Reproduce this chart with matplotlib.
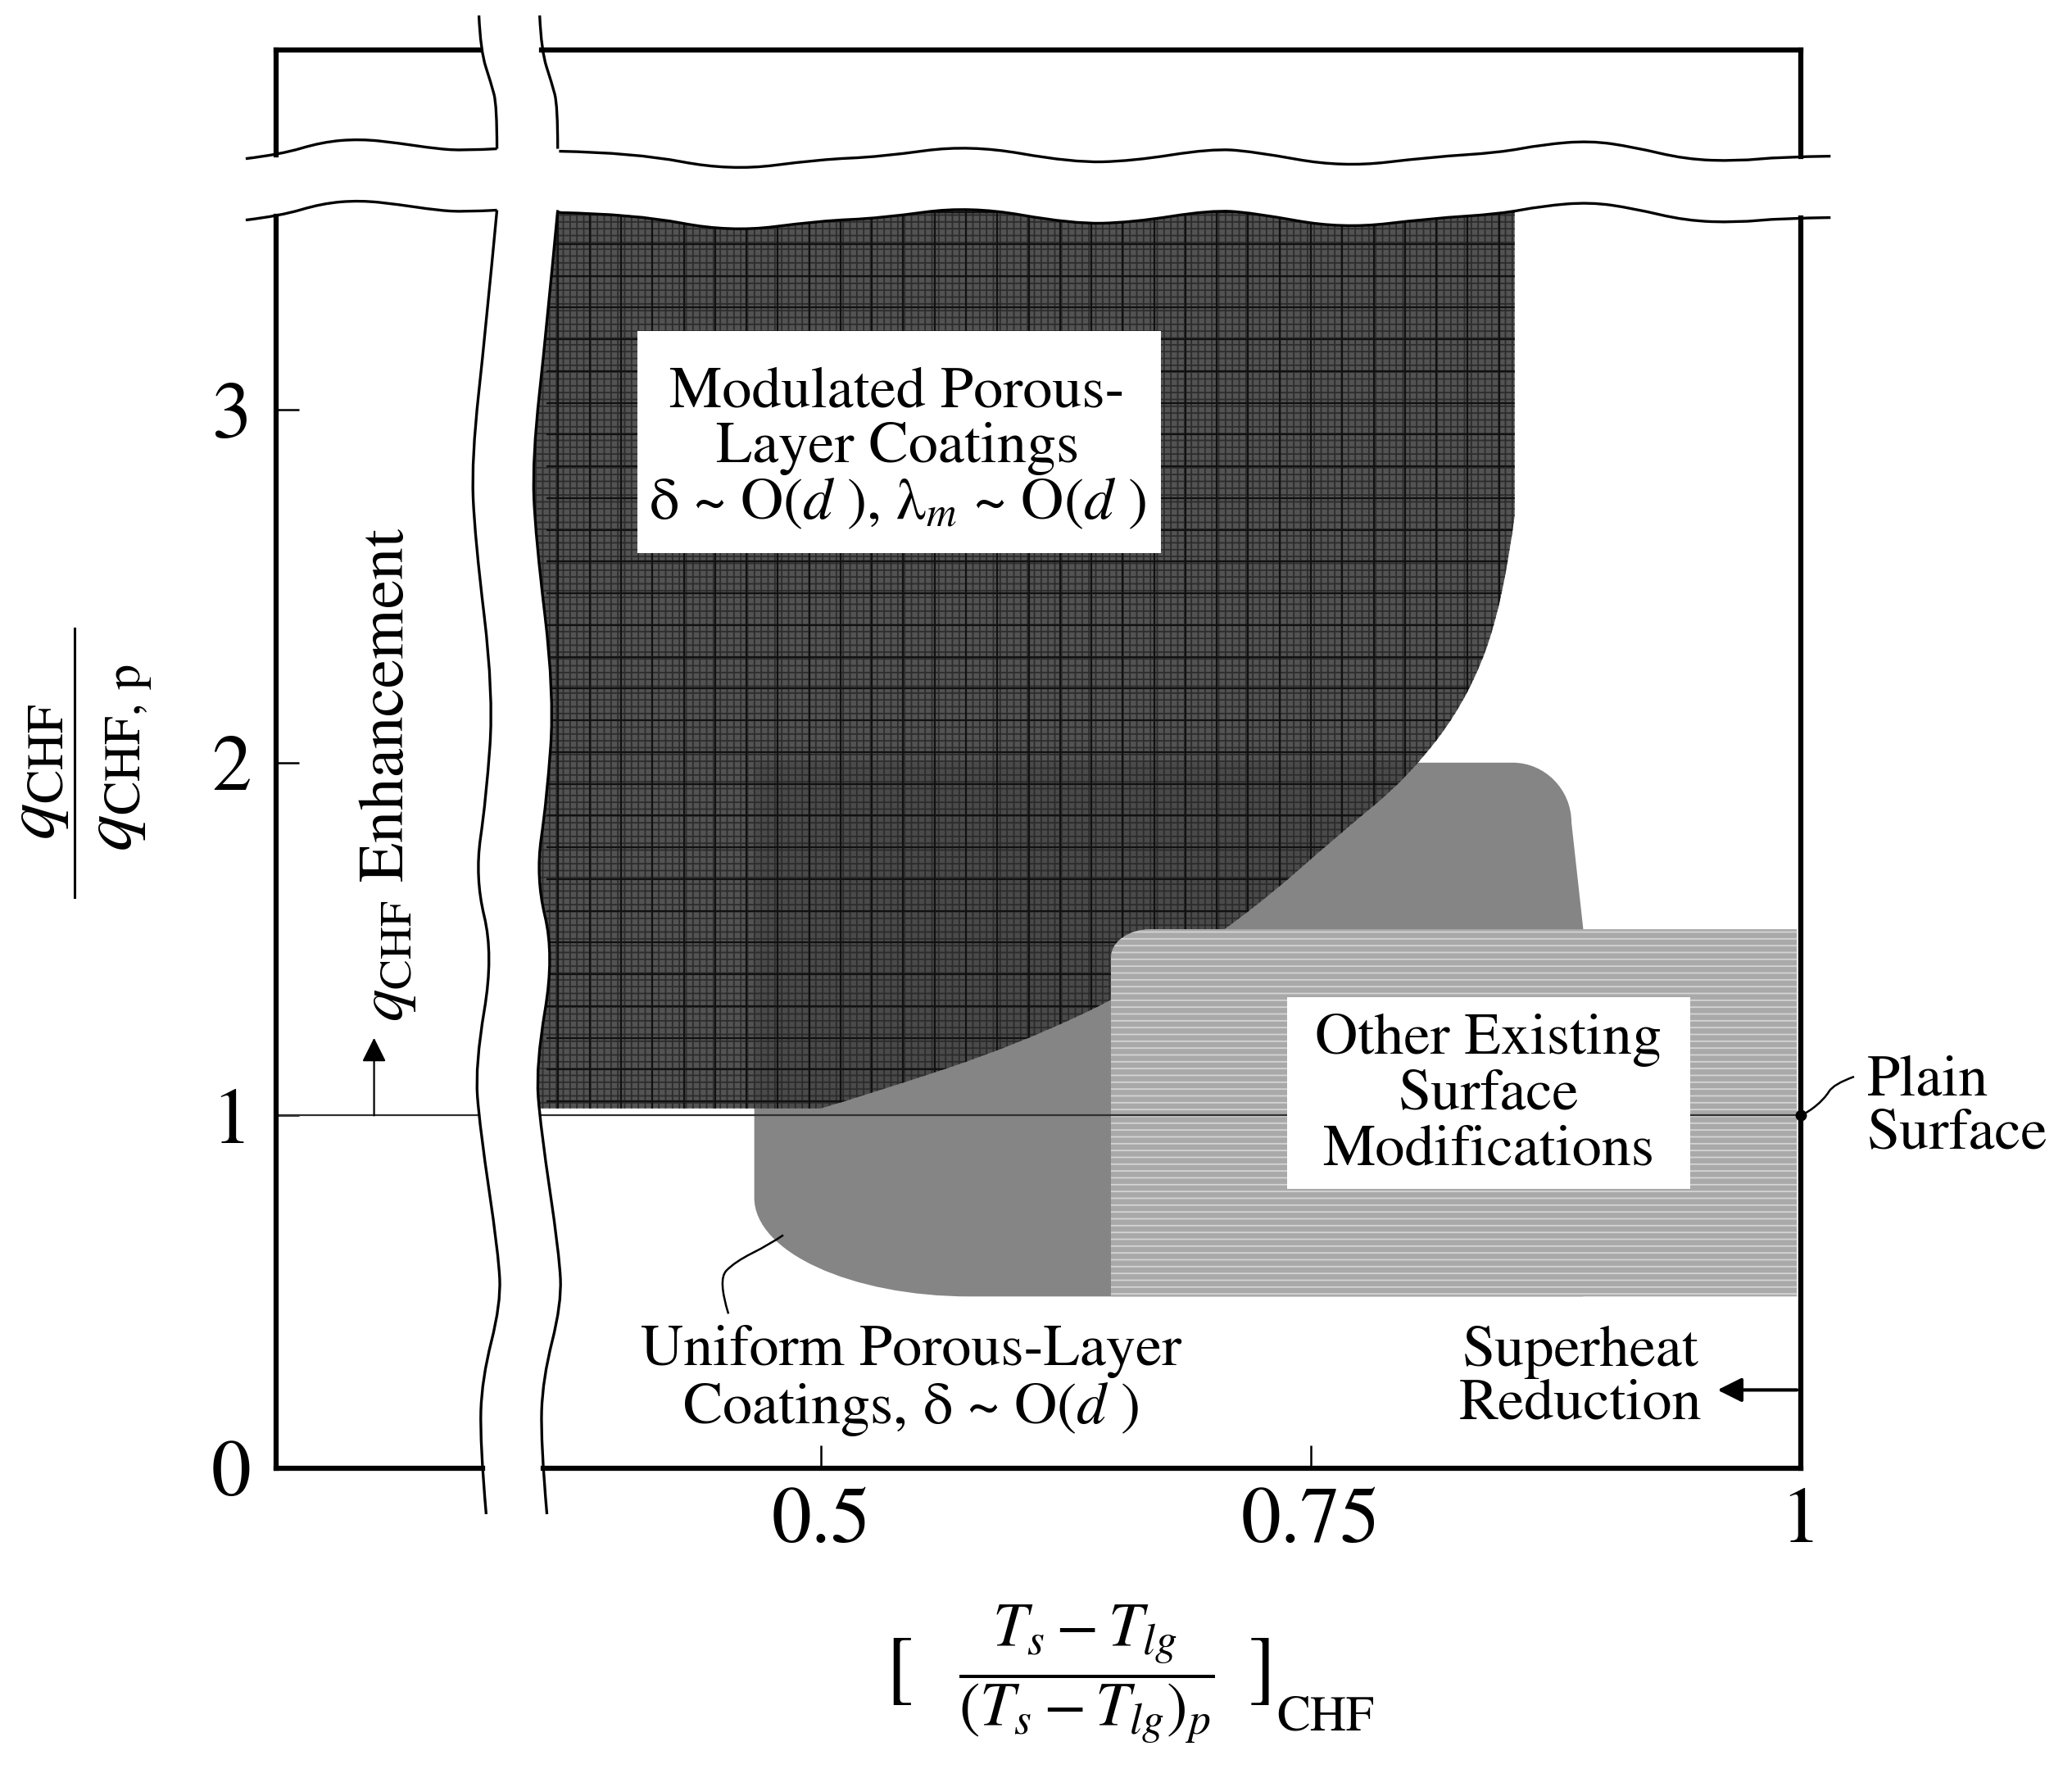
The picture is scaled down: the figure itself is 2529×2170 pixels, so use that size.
import numpy as np
import matplotlib
matplotlib.use("Agg")
import matplotlib.pyplot as plt
from matplotlib.path import Path
from matplotlib.patches import PathPatch, Rectangle
from matplotlib.lines import Line2D

plt.rcParams['font.family'] = 'STIXGeneral'
plt.rcParams['mathtext.fontset'] = 'stix'
plt.rcParams['hatch.linewidth'] = 1.3

# axis ranges and ticks
x_lim = (0.222, 1.0)
y_lim = (0.0, 4.02)
x_ticks = [0.5, 0.75, 1.0]
x_tick_labels = ['0.5', '0.75', '1']
y_ticks = [0, 1, 2, 3]
y_tick_labels = ['0', '1', '2', '3']

# horizontal axis break (upper wavy line, the lower one sits hwave_gap below)
hwave_x = [0.2065, 0.2244, 0.2453, 0.2649, 0.2846, 0.3038, 0.3180, 0.3347,
           0.3664, 0.4048, 0.4537, 0.4996, 0.5301, 0.5760, 0.6282, 0.6587,
           0.6987, 0.7200, 0.7660, 0.8119, 0.8461, 0.8683, 0.8925, 0.9146,
           0.9413, 0.9676, 0.9898, 1.0152]
hwave_y = [3.712, 3.724, 3.759, 3.768, 3.756, 3.740, 3.735, 3.740,
           3.733, 3.729, 3.677, 3.710, 3.717, 3.752, 3.701, 3.705,
           3.740, 3.733, 3.687, 3.717, 3.729, 3.752, 3.763, 3.745,
           3.710, 3.705, 3.717, 3.719]
hwave_gap = 0.174

# vertical axis break (left wavy line, the right one sits vbreak_gap to the right)
vbreak_y = [4.118, 4.018, 3.926, 3.863, 3.740,
            3.566, 3.23, 2.861, 2.638, 2.195, 1.898, 1.675, 1.455, 1.142,
            0.963, 0.608, 0.466, 0.253, 0.074, -0.130]
vbreak_x = [0.3255, 0.3263, 0.3317, 0.3347, 0.3347,
            0.3347, 0.329, 0.3217, 0.3234, 0.333, 0.3292, 0.3234, 0.333, 0.3235,
            0.326, 0.3355, 0.3367, 0.327, 0.326, 0.3292]
vbreak_gap = 0.031

# plain surface reference
plain_y = 1.0

# modulated porous-layer coatings (dark)
mod_bottom = 1.02
mod_right = 0.854
mod_curve_x = [0.854, 0.848, 0.830, 0.800, 0.765, 0.720, 0.665, 0.600, 0.530, 0.500]
mod_curve_y = [2.70, 2.45, 2.18, 1.96, 1.80, 1.58, 1.37, 1.20, 1.07, 1.02]

# uniform porous-layer coatings (medium)
uni_left, uni_right, uni_bottom, uni_top = 0.466, 0.889, 0.487, 2.0

# other existing surface modifications (light)
oth_left, oth_right, oth_bottom, oth_top = 0.648, 0.998, 0.487, 1.528

# leader lines
uni_leader_x = [0.4528, 0.4474, 0.456, 0.474, 0.4808]
uni_leader_y = [0.438, 0.535, 0.585, 0.635, 0.661]
plain_leader_x = [0.9985, 1.0029, 1.0121, 1.0167, 1.0272]
plain_leader_y = [0.996, 1.0056, 1.047, 1.089, 1.110]


def spline_segment(pts):
    # quadratic b-spline through the midpoints, keeps first/last point
    pts = [tuple(p) for p in pts]
    if len(pts) < 3:
        return pts[1:], [Path.LINETO] * (len(pts) - 1)
    verts, codes = [], []
    for i in range(1, len(pts) - 1):
        if i == len(pts) - 2:
            end = pts[i + 1]
        else:
            end = ((pts[i][0] + pts[i + 1][0]) / 2, (pts[i][1] + pts[i + 1][1]) / 2)
        verts += [pts[i], end]
        codes += [Path.CURVE3, Path.CURVE3]
    return verts, codes


def smooth_line(ax, xs, ys, **kw):
    pts = list(zip(xs, ys))
    v, c = spline_segment(pts)
    path = Path([pts[0]] + v, [Path.MOVETO] + c)
    ax.add_patch(PathPatch(path, fill=False, clip_on=False, **kw))


fig = plt.figure(figsize=(25.29, 21.70), dpi=100)
ax = fig.add_axes([0.13325, 0.17419, 0.73585, 0.7977])
ax.set_xlim(*x_lim)
ax.set_ylim(*y_lim)
for s in ax.spines.values():
    s.set_visible(False)

hx = np.array(hwave_x)
hy = np.array(hwave_y)
vy = np.array(vbreak_y)
vx = np.array(vbreak_x)
top_piece = vy >= 3.74
low_piece = ~top_piece


def vline_x(y):
    return np.interp(y, vy[::-1], vx[::-1])


# --- medium region (underneath)
rx, ry = 0.11, 0.28
tx, ty = 0.03, 0.17
k = 0.55
uverts = [(uni_left, uni_top), (uni_right - tx - 0.006, uni_top),
          (uni_right - tx - 0.006 + k * tx, uni_top), (uni_right - 0.006, uni_top - (1 - k) * ty),
          (uni_right - 0.006, uni_top - ty),
          (uni_right, oth_top), (uni_right, uni_bottom),
          (uni_left + rx, uni_bottom),
          (uni_left + rx - k * rx, uni_bottom), (uni_left, uni_bottom + ry - k * ry),
          (uni_left, uni_bottom + ry),
          (uni_left, uni_top)]
ucodes = [Path.MOVETO, Path.LINETO, Path.CURVE4, Path.CURVE4, Path.CURVE4,
          Path.LINETO, Path.LINETO, Path.LINETO,
          Path.CURVE4, Path.CURVE4, Path.CURVE4, Path.CLOSEPOLY]
ax.add_patch(PathPatch(Path(uverts, ucodes), facecolor='#858585', lw=0, zorder=1))

# --- dark region
left_mask = low_piece & (vy >= mod_bottom)
left_pts = [(vline_x(mod_bottom) + vbreak_gap, mod_bottom)]
left_pts += list(zip(vx[left_mask][::-1] + vbreak_gap, vy[left_mask][::-1]))
top_mask = (hx > 0.36) & (hx < mod_right)
top_pts = [left_pts[-1]] + list(zip(hx[top_mask], hy[top_mask] - hwave_gap))
top_pts.append((mod_right, np.interp(mod_right, hx, hy) - hwave_gap))
curve_pts = list(zip(mod_curve_x, mod_curve_y))

verts = [left_pts[0]]
codes = [Path.MOVETO]
for seg in (left_pts, top_pts):
    v, c = spline_segment(seg)
    verts += v
    codes += c
verts.append(curve_pts[0])
codes.append(Path.LINETO)
v, c = spline_segment(curve_pts)
verts += v
codes += c
verts.append(left_pts[0])
codes.append(Path.CLOSEPOLY)
dark = PathPatch(Path(verts, codes), facecolor='#464646', edgecolor='#2a2a2a',
                 hatch='++', lw=0, alpha=0.93, zorder=2)
ax.add_patch(dark)
# coarse crosshatch on top of the fine one
gx = np.arange(0.366, 0.86, 0.016)
gy = np.arange(1.04, 3.6, 0.09)
vl = ax.vlines(gx, 1.0, 3.6, color='#111111', lw=1.6, zorder=2.1)
hl = ax.hlines(gy, 0.36, 0.86, color='#111111', lw=1.6, zorder=2.1)
vl.set_clip_path(dark)
hl.set_clip_path(dark)

# --- light region
cx, cy = 0.02, 0.08
overts = [(oth_left, oth_bottom), (oth_left, oth_top - cy),
          (oth_left, oth_top - cy + k * cy), (oth_left + cx - k * cx, oth_top),
          (oth_left + cx, oth_top),
          (oth_right, oth_top), (oth_right, oth_bottom), (oth_left, oth_bottom)]
ocodes = [Path.MOVETO, Path.LINETO, Path.CURVE4, Path.CURVE4, Path.CURVE4,
          Path.LINETO, Path.LINETO, Path.CLOSEPOLY]
ax.add_patch(PathPatch(Path(overts, ocodes), facecolor='#a9a9a9', edgecolor='#d4d4d4',
                       hatch='--', lw=0, zorder=3))

# --- plain surface line
ax.plot([x_lim[0], vline_x(plain_y)], [plain_y, plain_y], color='#303030', lw=1.6, zorder=4)
ax.plot([vline_x(plain_y) + vbreak_gap, x_lim[1]], [plain_y, plain_y], color='#303030',
        lw=1.6, zorder=4)

# --- white label boxes
ax.add_patch(Rectangle((0.4065, 2.594), 0.2672, 0.629, facecolor='white', lw=0, zorder=5))
ax.add_patch(Rectangle((0.738, 0.793), 0.2054, 0.543, facecolor='white', lw=0, zorder=5))

# --- frame with breaks
fw = 4.5
lw_wave = 2.4
yl_low = np.interp(x_lim[0], hx, hy) - hwave_gap
yl_up = np.interp(x_lim[0], hx, hy)
yr_low = np.interp(x_lim[1], hx, hy) - hwave_gap
yr_up = np.interp(x_lim[1], hx, hy)
frame = [
    ([x_lim[0], x_lim[0]], [y_lim[0], yl_low]),
    ([x_lim[0], x_lim[0]], [yl_up, y_lim[1]]),
    ([x_lim[1], x_lim[1]], [y_lim[0], yr_low]),
    ([x_lim[1], x_lim[1]], [yr_up, y_lim[1]]),
    ([x_lim[0], vline_x(y_lim[1])], [y_lim[1], y_lim[1]]),
    ([vline_x(y_lim[1]) + vbreak_gap, x_lim[1]], [y_lim[1], y_lim[1]]),
    ([x_lim[0], vline_x(y_lim[0])], [y_lim[0], y_lim[0]]),
    ([vline_x(y_lim[0]) + vbreak_gap, x_lim[1]], [y_lim[0], y_lim[0]]),
]
for fx, fy in frame:
    ax.plot(fx, fy, color='black', lw=fw, solid_capstyle='projecting', clip_on=False, zorder=7)

lm = hx < 0.35
rm = ~lm
for off in (0.0, hwave_gap):
    smooth_line(ax, hx[lm], hy[lm] - off, color='black', lw=lw_wave, zorder=7)
    smooth_line(ax, hx[rm], hy[rm] - off, color='black', lw=lw_wave, zorder=7)
for off in (0.0, vbreak_gap):
    smooth_line(ax, vx[top_piece] + off, vy[top_piece], color='black', lw=lw_wave, zorder=7)
    smooth_line(ax, vx[low_piece] + off, vy[low_piece], color='black', lw=lw_wave, zorder=7)

# --- ticks
ax.set_xticks(x_ticks, x_tick_labels)
ax.set_yticks(y_ticks, y_tick_labels)
ax.tick_params(axis='both', direction='in', length=20, width=1.8, labelsize=70,
               color='black', labelcolor='black')
ax.tick_params(axis='x', pad=17)
ax.tick_params(axis='y', pad=22)

# --- annotations
ax.annotate('', xy=(0.272, 1.22), xytext=(0.272, plain_y),
            arrowprops=dict(arrowstyle='-|>', lw=1.6, color='black', mutation_scale=45,
                            shrinkA=0, shrinkB=0), zorder=7)
ax.text(0.279, 1.265, r'$q_{\mathrm{CHF}}$ Enhancement', rotation=90, ha='center',
        va='bottom', fontsize=57, zorder=7)
ax.annotate('', xy=(0.9575, 0.222), xytext=(0.998, 0.222),
            arrowprops=dict(arrowstyle='-|>', lw=3, color='black', mutation_scale=45,
                            shrinkA=0, shrinkB=0), annotation_clip=False, zorder=7)
ax.plot([x_lim[1]], [plain_y], 'o', ms=9, color='black', clip_on=False, zorder=8)
smooth_line(ax, plain_leader_x, plain_leader_y, color='black', lw=1.8, zorder=8)
smooth_line(ax, uni_leader_x, uni_leader_y, color='black', lw=1.8, zorder=8)

ax.text(0.539, 2.889, 'Modulated Porous-\nLayer Coatings\nδ ~ O($d$ ), λ$_m$ ~ O($d$ )',
        ha='center', va='center', fontsize=52, linespacing=1.05, zorder=6)
ax.text(0.8407, 1.057, 'Other Existing\nSurface\nModifications', ha='center', va='center',
        fontsize=52, linespacing=1.05, zorder=6)
ax.text(0.546, 0.247, 'Uniform Porous-Layer\nCoatings, δ ~ O($d$ )', ha='center',
        va='center', fontsize=52, linespacing=1.05, zorder=6)
ax.text(0.8875, 0.254, 'Superheat\nReduction', ha='center', va='center', fontsize=52,
        linespacing=1.0, zorder=6)
ax.text(1.034, 1.02, 'Plain\nSurface', ha='left', va='center', fontsize=52,
        linespacing=1.0, clip_on=False, zorder=6)

# y label as a hand set fraction
fig.text(0.0182, 0.566, r'$q_{\mathrm{CHF}}$', rotation=90, ha='center', va='center',
         fontsize=64)
fig.text(0.0590, 0.574, r'$q_{\mathrm{CHF,\,p}}$', rotation=90, ha='center', va='center',
         fontsize=64)
fig.add_artist(Line2D([0.036, 0.036], [0.4954, 0.6465], color='black', lw=2.2))

# x label: fraction with separate brackets
fig.text(0.5245, 0.0585, r'$\dfrac{T_s - T_{lg}}{(T_s - T_{lg})_p}$',
         ha='center', va='center', fontsize=55)
fig.text(0.434, 0.059, '[', ha='center', va='center', fontsize=72)
fig.text(0.609, 0.059, ']', ha='center', va='center', fontsize=72)
fig.text(0.616, 0.0336, 'CHF', ha='left', va='center', fontsize=44)

fig.savefig('out.png', dpi=100)
